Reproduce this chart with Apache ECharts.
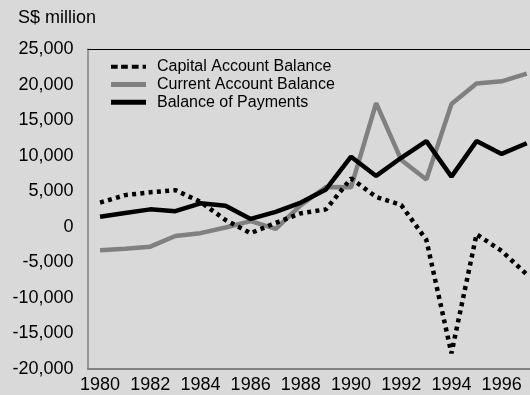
<!DOCTYPE html>
<html>
<head>
<meta charset="utf-8">
<style>
  html, body { margin: 0; padding: 0; background: #d9d9d9; }
  #chart { width: 530px; height: 395px; }
</style>
<script src="https://cdn.jsdelivr.net/npm/echarts@6/dist/echarts.min.js"></script>
</head>
<body>
<div id="chart"></div>
<script>
// Singapore balance of payments components, S$ million
const years = [1980, 1981, 1982, 1983, 1984, 1985, 1986, 1987, 1988,
               1989, 1990, 1991, 1992, 1993, 1994, 1995, 1996, 1997];
const capitalAccount = [3400, 4450, 4850, 5150, 3500, 950, -900, 550, 1900,
                        2450, 6800, 4200, 3050, -1850, -17800, -1050, -3400, -6700];
const currentAccount = [-3300, -3100, -2800, -1300, -900, -100, 800, -300, 3050,
                        5600, 5550, 17400, 9400, 6650, 17250, 20150, 20450, 21550];
const balanceOfPayments = [1400, 1950, 2450, 2200, 3300, 2950, 1100, 2100, 3400,
                           5250, 9850, 7150, 9700, 12050, 7050, 12050, 10250, 11750];
const yearTicks = [1980, 1982, 1984, 1986, 1988, 1990, 1992, 1994, 1996];
const seriesNames = ['Capital Account Balance', 'Current Account Balance', 'Balance of Payments'];

const chart = echarts.init(document.getElementById('chart'), null, { renderer: 'canvas' });

const pair = (vals) => years.map((y, i) => [y, vals[i]]);
const fontFamily = '"Liberation Sans", Arial, sans-serif';

// Legend key for the dotted series: four short dashes
const dottedKey = 'path://M0,0H6.6V4H0Z M10,0H16.6V4H10Z M20.6,0H27.3V4H20.6Z M31.3,0H34.6V4H31.3Z';

chart.setOption({
  backgroundColor: '#d9d9d9',
  animation: false,
  textStyle: { fontFamily: fontFamily },
  grid: { left: 88, right: 0, top: 49, bottom: 26 },
  graphic: [{
    type: 'text',
    left: 18,
    top: 9,
    style: { text: 'S$ million', font: '18px ' + fontFamily, fill: '#000' }
  }],
  legend: {
    orient: 'vertical',
    left: 111,
    top: 58.7,
    padding: 0,
    itemWidth: 35,
    itemHeight: 5,
    itemGap: 1.75,
    textStyle: { fontSize: 16, lineHeight: 16, color: '#000', fontFamily: fontFamily, padding: [0, 0, 0, 6] },
    data: [
      { name: seriesNames[0], icon: dottedKey },
      { name: seriesNames[1], icon: 'rect' },
      { name: seriesNames[2], icon: 'rect' }
    ]
  },
  xAxis: [{
    type: 'value',
    min: 1979.52,
    max: 1997.13,
    axisLine: { onZero: false, lineStyle: { color: '#808080', width: 2 } },
    axisTick: { show: false },
    splitLine: { show: false },
    axisLabel: {
      customValues: yearTicks,
      color: '#000',
      fontSize: 18,
      margin: 7,
      formatter: (v) => String(v)
    }
  }, {
    type: 'value',
    position: 'top',
    min: 1979.52,
    max: 1997.13,
    axisLine: { show: true, onZero: false, lineStyle: { color: '#000', width: 1 } },
    axisTick: { show: false },
    axisLabel: { show: false },
    splitLine: { show: false }
  }],
  yAxis: {
    type: 'value',
    min: -20000,
    max: 25000,
    interval: 5000,
    axisLine: { show: true, onZero: false, lineStyle: { color: '#808080', width: 1.5 } },
    axisTick: { show: false },
    splitLine: { show: false },
    axisLabel: {
      color: '#000',
      fontSize: 18,
      margin: 14.5,
      formatter: (v) => v.toLocaleString('en-US')
    }
  },
  series: [{
    name: seriesNames[0],
    type: 'line',
    data: pair(capitalAccount),
    symbol: 'none',
    z: 3,
    itemStyle: { color: '#000' },
    lineStyle: { color: '#000', width: 4.5, type: [4, 4.3], cap: 'butt' }
  }, {
    name: seriesNames[1],
    type: 'line',
    data: pair(currentAccount),
    symbol: 'none',
    z: 2,
    itemStyle: { color: '#808080' },
    lineStyle: { color: '#808080', width: 4.5 }
  }, {
    name: seriesNames[2],
    type: 'line',
    data: pair(balanceOfPayments),
    symbol: 'none',
    z: 4,
    itemStyle: { color: '#000' },
    lineStyle: { color: '#000', width: 4.5 }
  }]
});
</script>
</body>
</html>
